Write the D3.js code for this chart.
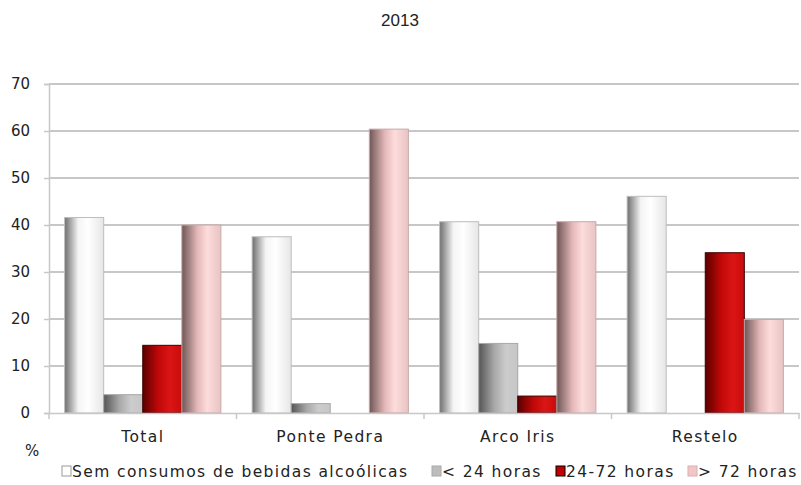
<!DOCTYPE html>
<html>
<head>
<meta charset="utf-8">
<script src="https://cdn.jsdelivr.net/npm/d3@7"></script>
<style>
  body { margin: 0; background: #fff; }
  text { font-family: "DejaVu Sans", sans-serif; fill: #222; }
  .lbl { font-size: 15.5px; letter-spacing: 1.4px; }
  .num { font-size: 15px; }
</style>
</head>
<body>
<svg id="chart" width="801" height="485"></svg>
<script>
// data
var categories = ['Total', 'Ponte Pedra', 'Arco Iris', 'Restelo']
var seriesNames = ['Sem consumos de bebidas alcoólicas', '< 24 horas', '24-72 horas', '> 72 horas']
var semConsumo = [41.6, 37.5, 40.7, 46.1]
var menos24 = [3.9, 2.0, 14.8, 0]
var entre24e72 = [14.4, 0, 3.6, 34.1]
var mais72 = [40.0, 60.4, 40.7, 19.9]
var yTicks = [0, 10, 20, 30, 40, 50, 60, 70]

var series = [semConsumo, menos24, entre24e72, mais72]

var margin = { top: 84, right: 2, bottom: 72, left: 49 }
var width = 801 - margin.left - margin.right
var height = 485 - margin.top - margin.bottom

var svg = d3.select('#chart')
var defs = svg.append('defs')

// horizontal gradients to mimic the bevelled bars
var grads = [
  [['0%', '#6e6e6e'], ['35%', '#f4f4f4'], ['60%', '#ffffff'], ['100%', '#e6e6e6']],
  [['0%', '#555555'], ['40%', '#a8a8a8'], ['70%', '#cccccc'], ['100%', '#c6c6c6']],
  [['0%', '#5a0000'], ['40%', '#c00808'], ['70%', '#db1515'], ['100%', '#c80c0c']],
  [['0%', '#6e5656'], ['40%', '#e4b8b8'], ['65%', '#fddcdc'], ['100%', '#e8c4c4']]
]
var strokes = ['#bdbdbd', '#a8a8a8', '#3a0000', '#c8a8a8']
var legendFill = ['#ffffff', '#bdbdbd', '#c00000', '#f2c6c6']
var legendStroke = ['#999', '#aaa', '#000', '#d8b0b0']

grads.forEach((stops, i) => {
  var g = defs.append('linearGradient').attr('id', 'g' + i)
    .attr('x1', '0%').attr('x2', '100%').attr('y1', '0%').attr('y2', '0%')
  stops.forEach(s => g.append('stop').attr('offset', s[0]).attr('stop-color', s[1]))
})

// title
svg.append('text')
  .attr('x', 400).attr('y', 26)
  .attr('text-anchor', 'middle')
  .style('font-family', '"Liberation Sans", Arial, sans-serif')
  .style('font-size', '17px')
  .text('2013')

var g = svg.append('g').attr('transform', 'translate(' + margin.left + ',' + margin.top + ')')

var x = d3.scaleBand().domain(categories).range([0, width]).paddingInner(0).paddingOuter(0)
var xs = d3.scaleBand().domain(d3.range(4)).range([0, x.bandwidth()]).paddingOuter(0.4).paddingInner(0)
var y = d3.scaleLinear().domain([0, 70]).range([height, 0])

// gridlines
g.selectAll('line.grid')
  .data(yTicks.slice(1))
  .enter().append('line')
  .attr('class', 'grid')
  .attr('x1', 0).attr('x2', width)
  .attr('y1', d => y(d)).attr('y2', d => y(d))
  .attr('stroke', '#b4b4b4').attr('stroke-width', 1.6)

// y axis
var yAxis = g.append('g').call(d3.axisLeft(y).tickValues(yTicks).tickSize(5).tickPadding(14))
yAxis.select('.domain').attr('stroke', '#c8c8c8').attr('stroke-width', 1.5)
yAxis.selectAll('.tick line').attr('stroke', '#c8c8c8').attr('stroke-width', 1.5)
yAxis.selectAll('text').attr('class', 'num').attr('fill', '#222').style('font-family', '"DejaVu Sans", sans-serif')

// bars
categories.forEach((c, ci) => {
  var grp = g.append('g').attr('transform', 'translate(' + x(c) + ',0)')
  series.forEach((s, si) => {
    if (!s[ci]) return
    grp.append('rect')
      .attr('x', xs(si))
      .attr('y', y(s[ci]))
      .attr('width', xs.bandwidth())
      .attr('height', height - y(s[ci]))
      .attr('fill', 'url(#g' + si + ')')
      .attr('stroke', strokes[si])
      .attr('stroke-width', 1)
  })
})

// x axis
var xAxis = g.append('g').attr('transform', 'translate(0,' + height + ')')
  .call(d3.axisBottom(x).tickSize(0).tickPadding(18))
xAxis.select('.domain').attr('stroke', '#c8c8c8').attr('stroke-width', 1.5)
xAxis.selectAll('text').attr('class', 'lbl').attr('fill', '#222').style('font-family', '"DejaVu Sans", sans-serif')
xAxis.selectAll('line.sep')
  .data(d3.range(categories.length + 1))
  .enter().append('line')
  .attr('class', 'sep')
  .attr('x1', d => d * x.step()).attr('x2', d => d * x.step())
  .attr('y1', 0).attr('y2', 6)
  .attr('stroke', '#c8c8c8').attr('stroke-width', 1.5)

// % label
svg.append('text')
  .attr('class', 'num')
  .attr('x', 25).attr('y', 456)
  .text('%')

// legend
var legendX = [62, 432, 556, 688]
var legend = svg.selectAll('g.legend')
  .data(seriesNames)
  .enter().append('g')
  .attr('class', 'legend')
  .attr('transform', (d, i) => 'translate(' + legendX[i] + ',471)')
legend.append('rect')
  .attr('x', 0).attr('y', -5).attr('width', 9).attr('height', 10)
  .attr('fill', (d, i) => legendFill[i])
  .attr('stroke', (d, i) => legendStroke[i])
legend.append('text')
  .attr('class', 'lbl')
  .attr('x', 10).attr('y', 5.5)
  .text(d => d)
</script>
</body>
</html>
